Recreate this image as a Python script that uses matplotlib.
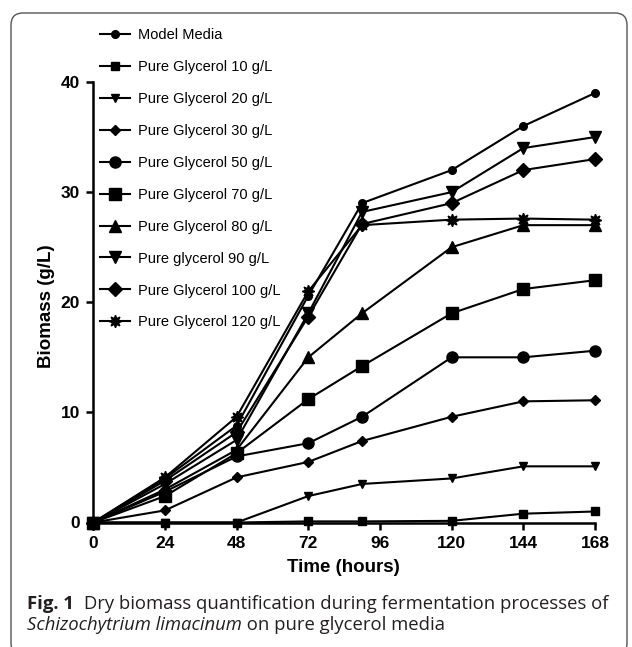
import matplotlib
matplotlib.use("Agg")
import matplotlib.pyplot as plt
from matplotlib.patches import FancyBboxPatch

# sampling times (h) and dry biomass (g/L)
hours = [0, 24, 48, 72, 90, 120, 144, 168]

model_media = [0, 4.0, 8.8, 20.6, 29.0, 32.0, 36.0, 39.0]
glycerol_10 = [0, 0.0, 0.0, 0.1, 0.1, 0.15, 0.8, 1.0]
glycerol_20 = [0, 0.0, 0.0, 2.4, 3.5, 4.0, 5.1, 5.1]
glycerol_30 = [0, 1.1, 4.1, 5.5, 7.4, 9.6, 11.0, 11.1]
glycerol_50 = [0, 2.8, 6.0, 7.2, 9.6, 15.0, 15.0, 15.6]
glycerol_70 = [0, 2.4, 6.3, 11.2, 14.2, 19.0, 21.2, 22.0]
glycerol_80 = [0, 3.0, 6.6, 15.0, 19.0, 25.0, 27.0, 27.0]
glycerol_90 = [0, 3.5, 7.5, 19.0, 28.2, 30.0, 34.0, 35.0]
glycerol_100 = [0, 3.8, 8.2, 18.7, 27.1, 29.0, 32.0, 33.0]
glycerol_120 = [0, 4.1, 9.6, 21.0, 27.0, 27.5, 27.6, 27.5]

labels = [
    "Model Media",
    "Pure Glycerol 10 g/L",
    "Pure Glycerol 20 g/L",
    "Pure Glycerol 30 g/L",
    "Pure Glycerol 50 g/L",
    "Pure Glycerol 70 g/L",
    "Pure Glycerol 80 g/L",
    "Pure glycerol 90 g/L",
    "Pure Glycerol 100 g/L",
    "Pure Glycerol 120 g/L",
]
values = [model_media, glycerol_10, glycerol_20, glycerol_30, glycerol_50,
          glycerol_70, glycerol_80, glycerol_90, glycerol_100, glycerol_120]
markers = ["o", "s", "v", "D", "o", "s", "^", "v", "D", (8, 1, 0)]
sizes = [5.5, 5.5, 6, 5, 8, 8, 8.5, 8.5, 7.5, 9]

x_ticks = [0, 24, 48, 72, 96, 120, 144, 168]
y_ticks = [0, 10, 20, 30, 40]

W, H = 632, 647
fig = plt.figure(figsize=(W / 100, H / 100), dpi=100)
ax = fig.add_axes([93.3 / W, 1 - 522.5 / H, 501.7 / W, 440.5 / H])

for lab, vals, m, ms in zip(labels, values, markers, sizes):
    ax.plot(hours, vals, color="black", lw=1.5, marker=m, ms=ms,
            mec="black", mfc="black", label=lab, clip_on=False, zorder=3)

ax.set_xlim(0, 168)
ax.set_ylim(0, 40)
ax.set_xticks(x_ticks)
ax.set_yticks(y_ticks)
for s in ["top", "right"]:
    ax.spines[s].set_visible(False)
for s in ["left", "bottom"]:
    ax.spines[s].set_linewidth(1.8)
ax.tick_params(direction="out", length=5, width=1.8, pad=4.5)
for t in ax.get_xticklabels() + ax.get_yticklabels():
    t.set_fontfamily("Liberation Sans")
    t.set_fontweight("bold")
    t.set_fontsize(12.5)

ax.set_xlabel("Time (hours)", family="Liberation Sans", fontweight="bold", fontsize=13.5)
ax.set_ylabel("Biomass (g/L)", family="Liberation Sans", fontweight="bold", fontsize=13.5)
ax.xaxis.set_label_coords(0.4987, -0.083)
ax.yaxis.set_label_coords(-0.077, 0.49)

ax.legend(loc="upper left", bbox_to_anchor=(100 / W, 1 - 28 / H),
          bbox_transform=fig.transFigure, frameon=False,
          prop={"family": "Liberation Sans", "size": 10.5},
          handlelength=2.05, handletextpad=0.55, labelspacing=1.23,
          borderpad=0, borderaxespad=0)

# rounded frame around the figure panel
frame = FancyBboxPatch((0.11, -0.08), 6.16, 6.42,
                       boxstyle="round,pad=0,rounding_size=0.12",
                       transform=fig.dpi_scale_trans, fill=False,
                       edgecolor="#555555", lw=1.0)
fig.patches.append(frame)

# caption
cap_fs = 13.3
cap_col = "#231f20"
renderer = fig.canvas.get_renderer()
t1 = fig.text(27 / W, 1 - 608.7 / H, "Fig. 1", family="Open Sans", fontweight="bold",
              fontsize=cap_fs, color=cap_col, va="baseline")
bb = t1.get_window_extent(renderer)
fig.text((bb.x1 + 10) / W, 1 - 608.7 / H,
         "Dry biomass quantification during fermentation processes of",
         family="Open Sans", fontsize=cap_fs, color=cap_col, va="baseline")
t3 = fig.text(27 / W, 1 - 630.5 / H, "Schizochytrium limacinum", family="Open Sans",
              style="italic", fontsize=cap_fs, color=cap_col, va="baseline")
bb = t3.get_window_extent(renderer)
fig.text(bb.x1 / W, 1 - 630.5 / H, " on pure glycerol media", family="Open Sans",
         fontsize=cap_fs, color=cap_col, va="baseline")

fig.savefig("out.png", dpi=100)
